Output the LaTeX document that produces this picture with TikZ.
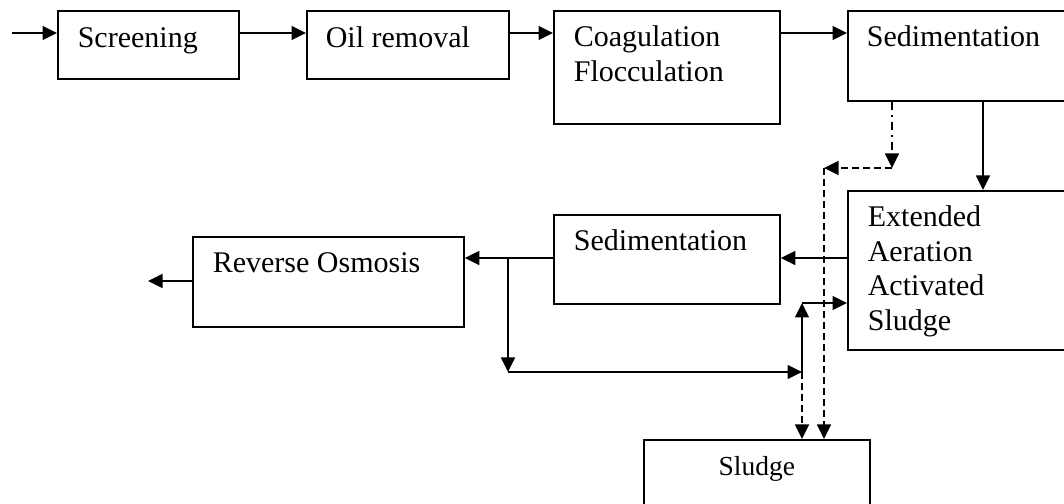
\documentclass[tikz,border=0pt]{standalone}
\usepackage{fontspec}
\setmainfont{Liberation Serif}
\usetikzlibrary{arrows.meta}
\begin{document}
\begin{tikzpicture}[x=0.4pt,y=-0.4pt,
  line width=0.65pt,
  box/.style={draw, line width=0.7pt, anchor=north west, inner sep=0pt},
  lbl/.style={anchor=base west, inner sep=0pt, align=left,
    font=\fontsize{12pt}{13.8pt}\selectfont},
  arr/.style={-{Triangle[length=5.8pt,width=5.6pt]}},
  dashedline/.style={dash pattern=on 2.8pt off 1.6pt},
  dashdotline/.style={dash pattern=on 3.2pt off 2pt on 0.8pt off 2pt}]
\useasboundingbox (0,0) rectangle (1064,504);
\clip (0,0) rectangle (1064,504);

% process units
\node[box, minimum width=72.4pt, minimum height=27.2pt] (scr) at (57,10) {};
\node[box, minimum width=80.8pt, minimum height=27.2pt] (oil) at (306,10) {};
\node[box, minimum width=90.4pt, minimum height=45.2pt] (coag) at (553,10) {};
\node[box, minimum width=96pt, minimum height=36pt] (sedA) at (847,10) {};
\node[box, minimum width=96pt, minimum height=63.6pt] (ext) at (847,190) {};
\node[box, minimum width=90.4pt, minimum height=35.6pt] (sedB) at (553,214) {};
\node[box, minimum width=108.4pt, minimum height=36pt] (ro) at (192,236) {};
\node[box, minimum width=90.4pt, minimum height=40pt] (sludge) at (643,439) {};

% unit labels (a multi-line label sits on the baseline of its last line)
\node[lbl] (scrT) at ([shift={(20,38)}]scr.north west) {Screening};
\node[lbl] (oilT) at ([shift={(19,38)}]oil.north west) {Oil removal};
\node[lbl] (coagT) at ([shift={(20,71.5)}]coag.north west) {Coagulation\\Flocculation};
\node[lbl] (sedAT) at ([shift={(19,37)}]sedA.north west) {Sedimentation};
\node[lbl] (extT) at ([shift={(20,140.5)}]ext.north west) {Extended\\Aeration\\Activated\\Sludge};
\node[lbl] (sedBT) at ([shift={(20,37)}]sedB.north west) {Sedimentation};
\node[lbl] (roT) at ([shift={(20,37)}]ro.north west) {Reverse Osmosis};
\node[lbl, anchor=base, font=\fontsize{11pt}{13pt}\selectfont] (sludgeT)
  at ([shift={(0,36)}]sludge.north) {Sludge};

% main treatment line
\coordinate (src) at (12,33);
\draw[arr] (src) -- (src -| scr.west);
\draw[arr] (scr.east |- src) -- (oil.west |- src);
\draw[arr] (oil.east |- src) -- (coag.west |- src);
\draw[arr] (coag.east |- src) -- (sedA.west |- src);
\coordinate (xMain) at (983,0);
\draw[arr] (sedA.south -| xMain) -- (ext.north -| xMain);

% sludge from the first settler
\coordinate (dd) at (892,168);
\coordinate (dl) at (824,168);
\draw[arr, dashdotline] (sedA.south -| dd) -- (dd);
\draw[arr, dashedline] (dd) -- (dl);
\draw[arr, dashedline] (dl) -- (sludge.north -| dl);

% biological stage and polishing
\coordinate (yR) at (0,258);
\draw[arr] (ext.west |- yR) -- (sedB.east |- yR);
\draw[arr] (sedB.west |- yR) -- (ro.east |- yR);
\coordinate (out) at (148,281);
\draw[arr] (ro.west |- out) -- (out);

% return and waste sludge
\coordinate (split) at (508,258);
\coordinate (turn) at (508,372);
\coordinate (join) at (802,372);
\coordinate (ret) at (802,303);
\draw[arr] (split) -- (turn);
\draw[arr] (turn) -- (join);
\draw[arr] (join) -- (ret);
\draw[arr] (ret) -- (ext.west |- ret);
\draw[arr, dashedline] (join) -- (sludge.north -| join);
\end{tikzpicture}
\end{document}
